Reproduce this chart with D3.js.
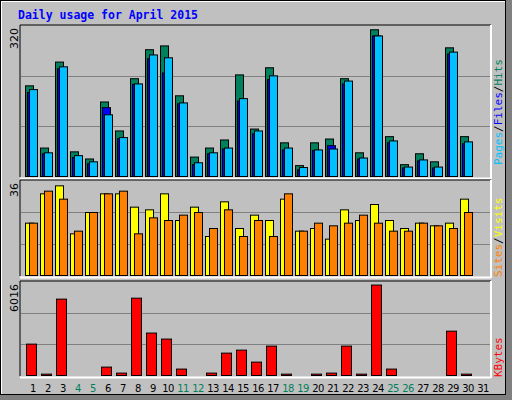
<!DOCTYPE html><html><head><meta charset="utf-8">
<script src="https://cdn.jsdelivr.net/npm/d3@7"></script>
<style>body{margin:0;background:#fff}</style></head><body>
<svg id="c" width="512" height="400"></svg>
<script>
const days = d3.range(1, 32);
const weekend = [4,5,11,12,18,19,25,26];
const hits  = [193,62,243,54,39,159,98,208,269,277,172,43,62,79,216,102,231,73,25,73,81,208,52,311,86,27,50,33,273,86,0];
const files = [179,50,229,42,29,147,82,196,250,220,155,27,50,60,161,92,206,58,16,57,67,197,39,298,73,20,35,20,260,71,0];
const pages = [185,52,233,46,33,132,84,197,258,252,157,31,52,62,166,98,214,62,21,58,60,203,41,298,77,22,37,22,264,75,0];
const visits= [20,31,34,16,24,31,31,26,25,31,21,26,15,28,18,23,21,29,17,18,14,25,21,27,21,18,20,19,20,29,0];
const sites = [20,32,29,17,24,31,32,16,22,21,23,24,18,25,15,21,15,31,17,20,19,20,23,20,17,17,20,19,18,24,0];
const kbytes= [2050,150,4900,30,30,595,215,4960,2750,2370,470,30,215,1480,1670,910,1925,150,30,150,215,1925,150,5790,470,30,30,30,2870,150,0];
const maxHits = 320, maxVisits = 36, maxKB = 6016;

const svg = d3.select("#c");
svg.append("rect").attr("x",0).attr("y",0).attr("width",512).attr("height",400).attr("fill","#808080");
svg.append("rect").attr("x",0.5).attr("y",0.5).attr("width",505).attr("height",394).attr("fill","#C0C0C0").attr("stroke","#000");
svg.append("line").attr("x1",1).attr("y1",1.5).attr("x2",505).attr("y2",1.5).attr("stroke","#fff");
svg.append("line").attr("x1",1.5).attr("y1",1).attr("x2",1.5).attr("y2",394).attr("stroke","#fff");
svg.append("text").attr("x",18).attr("y",19).text("Daily usage for April 2015")
  .attr("font-family","DejaVu Sans Mono").attr("font-weight","bold").attr("font-size",11.5).attr("fill","#0000FF");

const x = d3.scaleLinear().domain([1,32]).range([25, 25+15*31]);
const L = 20, R = 491;

function panel(top, bottom){
  const g = svg.append("g");
  g.append("line").attr("x1",L).attr("x2",R).attr("y1",top).attr("y2",top).attr("stroke","#000");
  g.append("line").attr("x1",L).attr("x2",L).attr("y1",top).attr("y2",bottom).attr("stroke","#000");
  g.append("line").attr("x1",L).attr("x2",R).attr("y1",bottom+1.5).attr("y2",bottom+1.5).attr("stroke","#fff").attr("stroke-width",2);
  g.append("line").attr("x1",R).attr("x2",R).attr("y1",top).attr("y2",bottom+2).attr("stroke","#fff").attr("stroke-width",2);
  return g;
}
function grid(g, y, max){
  [max/3, 2*max/3].forEach(v=>g.append("line").attr("x1",L+1).attr("x2",R-1)
    .attr("y1",Math.round(y(v))+0.5).attr("y2",Math.round(y(v))+0.5).attr("stroke","#808080"));
}
function bars(g, data, y, off, w, color){
  g.selectAll(null).data(data.map((v,i)=>({v,d:i+1})).filter(o=>o.v>0)).enter().append("rect")
    .attr("x",o=>x(o.d)+off+0.5).attr("width",w).attr("y",o=>Math.min(y(o.v),y(0)-1)+0.5)
    .attr("height",o=>Math.max(0,y(0)-y(o.v)-1)).attr("fill",color).attr("stroke","#000");
}
function ylabel(text, yTop){
  svg.append("text").attr("transform",`translate(18,${yTop}) rotate(-90)`).attr("text-anchor","end")
    .attr("font-family","DejaVu Sans").attr("font-size",11).attr("fill","#000").text(text);
}
function rlabel(parts, yBottom){
  const t = svg.append("text").attr("transform",`translate(502,${yBottom}) rotate(-90)`)
    .attr("font-family","DejaVu Sans Mono").attr("font-size",11);
  parts.forEach(p=>t.append("tspan").attr("fill",p[1]).text(p[0]));
}

// Panel 1
const y1 = d3.scaleLinear().domain([0,maxHits]).range([177,25]);
const g1 = panel(25,177); grid(g1,y1,maxHits);
bars(g1,hits,y1,0,8,"#00805C");
bars(g1,files,y1,2,8,"#0000FF");
bars(g1,pages,y1,4,8,"#00C0FF");
ylabel("320",28);
rlabel([["Pages","#00C0FF"],["/","#000"],["Files","#0000FF"],["/","#000"],["Hits","#00805C"]],165);

// Panel 2
const y2 = d3.scaleLinear().domain([0,maxVisits]).range([276,180]);
const g2 = panel(180,276); grid(g2,y2,maxVisits);
bars(g2,visits,y2,0,8,"#FFFF00");
bars(g2,sites,y2,4,8,"#FF8000");
ylabel("36",183);
rlabel([["Sites","#FF8000"],["/","#000"],["Visits","#FFFF00"]],277);

// Panel 3
const y3 = d3.scaleLinear().domain([0,maxKB]).range([376,281]);
const g3 = panel(281,376); grid(g3,y3,maxKB);
bars(g3,kbytes,y3,1,10,"#FF0000");
ylabel("6016",284);
rlabel([["KBytes","#FF0000"]],377);

// Day labels
svg.selectAll(null).data(days).enter().append("text")
  .attr("x",d=>x(d)+8).attr("y",392).attr("text-anchor","middle")
  .attr("font-family","DejaVu Sans").attr("font-size",10).attr("letter-spacing",-0.5)
  .attr("fill",d=>weekend.includes(d)?"#00805C":"#000").text(d=>d);
</script></body></html>
